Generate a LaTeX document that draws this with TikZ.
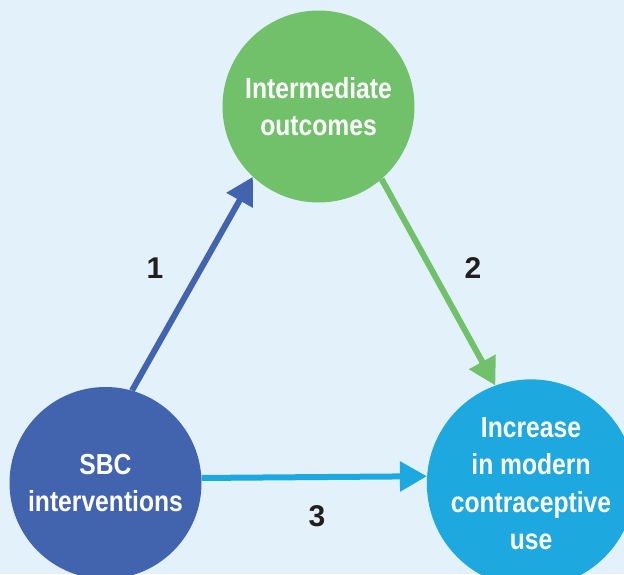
\documentclass[tikz,border=0pt]{standalone}
\usepackage{fontspec}
\setmainfont{Liberation Sans}
\newfontfamily\circfont{Liberation Sans}[FakeStretch=0.85]
\usetikzlibrary{arrows.meta}
\definecolor{bgblue}{HTML}{E3F2FA}
\definecolor{midgreen}{HTML}{71C16A}
\definecolor{sbcblue}{HTML}{4263AD}
\definecolor{useblue}{HTML}{1DA8E0}
\definecolor{numblack}{HTML}{231F20}

\begin{document}
\begin{tikzpicture}[x=1pt,y=-1pt,
  bubble/.style={circle,minimum size=192pt,inner sep=0pt,text=white,align=center,
    font=\circfont\bfseries\fontsize{29}{37.5}\selectfont},
  link/.style={line width=6pt,-{Triangle[length=27pt,width=29pt]}},
  num/.style={text=numblack,font=\bfseries\fontsize{30}{36}\selectfont}]
\fill[bgblue] (0,0) rectangle (624,574);
\useasboundingbox (0,0) rectangle (624,574);
\clip (0,0) rectangle (624,574);
\node[bubble,fill=midgreen] (mid) at (318.5,106.5) {Intermediate\\outcomes};
\node[bubble,fill=sbcblue] (sbc) at (105.5,483) {SBC\\interventions};
\node[bubble,fill=useblue] (use) at (531,483.5) {Increase\\in modern\\contraceptive\\use};
\draw[link,sbcblue] (sbc.74) -- (mid.227);
\draw[link,midgreen] (mid.311) -- (use.110);
\draw[link,useblue] (sbc.3.6) -- (use.176.4);
\node[num] (n1) at (155,268) {1};
\node[num] (n2) at (473,268) {2};
\node[num] (n3) at (317,516) {3};
\end{tikzpicture}
\end{document}
